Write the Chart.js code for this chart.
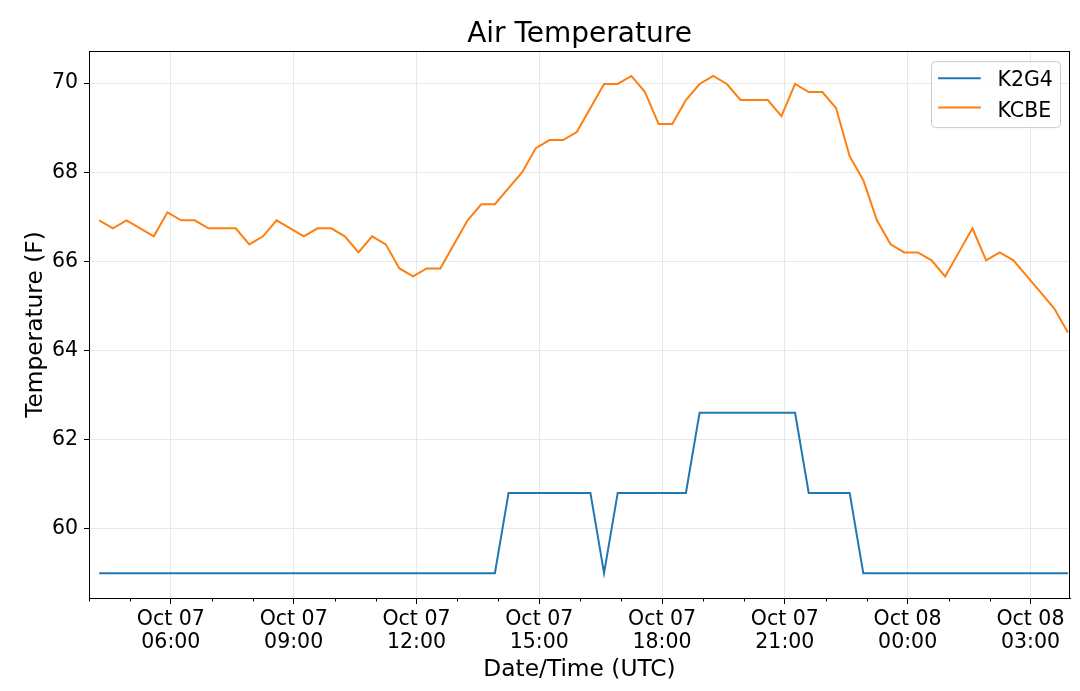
<!DOCTYPE html>
<html>
<head>
<meta charset="utf-8">
<script src="https://cdn.jsdelivr.net/npm/chart.js@4.4.0/dist/chart.umd.min.js"></script>
<style>
    html, body { margin: 0; padding: 0; background: #fff; }
    canvas { display: block; }
</style>
</head>
<body>
<canvas id="chart" width="1080" height="691"></canvas>
<script>
// Observation times (UTC), 'MM-DD HH:MM'
const times = [
    '10-07 04:15', '10-07 04:35', '10-07 04:55', '10-07 05:15', '10-07 05:35', '10-07 05:55',
    '10-07 06:15', '10-07 06:35', '10-07 06:55', '10-07 07:15', '10-07 07:35', '10-07 07:55',
    '10-07 08:15', '10-07 08:35', '10-07 08:55', '10-07 09:15', '10-07 09:35', '10-07 09:55',
    '10-07 10:15', '10-07 10:35', '10-07 10:55', '10-07 11:15', '10-07 11:35', '10-07 11:55',
    '10-07 12:15', '10-07 12:35', '10-07 12:55', '10-07 13:15', '10-07 13:35', '10-07 13:55',
    '10-07 14:15', '10-07 14:35', '10-07 14:55', '10-07 15:15', '10-07 15:35', '10-07 15:55',
    '10-07 16:15', '10-07 16:35', '10-07 16:55', '10-07 17:15', '10-07 17:35', '10-07 17:55',
    '10-07 18:15', '10-07 18:35', '10-07 18:55', '10-07 19:15', '10-07 19:35', '10-07 19:55',
    '10-07 20:15', '10-07 20:35', '10-07 20:55', '10-07 21:15', '10-07 21:35', '10-07 21:55',
    '10-07 22:15', '10-07 22:35', '10-07 22:55', '10-07 23:15', '10-07 23:35', '10-07 23:55',
    '10-08 00:15', '10-08 00:35', '10-08 00:55', '10-08 01:15', '10-08 01:35', '10-08 01:55',
    '10-08 02:15', '10-08 02:35', '10-08 02:55', '10-08 03:15', '10-08 03:35', '10-08 03:55'
];

// Air temperature (F)
const k2g4 = [
    59.0, 59.0, 59.0, 59.0, 59.0, 59.0, 59.0, 59.0, 59.0, 59.0,
    59.0, 59.0, 59.0, 59.0, 59.0, 59.0, 59.0, 59.0, 59.0, 59.0,
    59.0, 59.0, 59.0, 59.0, 59.0, 59.0, 59.0, 59.0, 59.0, 59.0,
    60.8, 60.8, 60.8, 60.8, 60.8, 60.8, 60.8, 59.0, 60.8, 60.8,
    60.8, 60.8, 60.8, 60.8, 62.6, 62.6, 62.6, 62.6, 62.6, 62.6,
    62.6, 62.6, 60.8, 60.8, 60.8, 60.8, 59.0, 59.0, 59.0, 59.0,
    59.0, 59.0, 59.0, 59.0, 59.0, 59.0, 59.0, 59.0, 59.0, 59.0,
    59.0, 59.0
];

const kcbe = [
    66.92, 66.74, 66.92, 66.74, 66.56, 67.10, 66.92, 66.92, 66.74, 66.74,
    66.74, 66.38, 66.56, 66.92, 66.74, 66.56, 66.74, 66.74, 66.56, 66.20,
    66.56, 66.38, 65.84, 65.66, 65.84, 65.84, 66.38, 66.92, 67.28, 67.28,
    67.64, 68.00, 68.54, 68.72, 68.72, 68.90, 69.44, 69.98, 69.98, 70.16,
    69.80, 69.08, 69.08, 69.62, 69.98, 70.16, 69.98, 69.62, 69.62, 69.62,
    69.26, 69.98, 69.80, 69.80, 69.44, 68.36, 67.82, 66.92, 66.38, 66.20,
    66.20, 66.02, 65.66, 66.20, 66.74, 66.02, 66.20, 66.02, 65.66, 65.30,
    64.94, 64.40
];

// Axis ticks
const xTickTimes = ['10-07 06:00', '10-07 09:00', '10-07 12:00', '10-07 15:00',
                    '10-07 18:00', '10-07 21:00', '10-08 00:00', '10-08 03:00'];
const xTickLabels = [
    ['Oct 07', '06:00'], ['Oct 07', '09:00'], ['Oct 07', '12:00'], ['Oct 07', '15:00'],
    ['Oct 07', '18:00'], ['Oct 07', '21:00'], ['Oct 08', '00:00'], ['Oct 08', '03:00']
];
const yTicks = [60, 62, 64, 66, 68, 70];

const xStart = '10-07 04:00';
const xEnd = '10-08 03:58';

const FONT = 'DejaVu Sans';

// hours since Oct 07 00:00
function toHours(s) {
    const [md, hm] = s.split(' ');
    const day = parseInt(md.split('-')[1], 10);
    const [h, m] = hm.split(':').map(Number);
    return (day - 7) * 24 + h + m / 60;
}

// Frame, minor ticks and in-axes legend (matplotlib look)
const axesDecor = {
    id: 'axesDecor',
    afterDatasetsDraw(chart) {
        const { ctx, chartArea: a, scales: { x } } = chart;
        ctx.save();
        ctx.strokeStyle = '#000';
        ctx.lineWidth = 1;
        ctx.strokeRect(Math.round(a.left) + 0.5, Math.round(a.top) + 0.5,
            Math.round(a.right - a.left) - 1, Math.round(a.bottom - a.top));
        // minor ticks, every hour
        for (let h = Math.ceil(x.min); h <= x.max; h++) {
            if (h % 3 === 0) continue;
            const px = Math.round(x.getPixelForValue(h)) + 0.5;
            ctx.beginPath();
            ctx.moveTo(px, a.bottom);
            ctx.lineTo(px, a.bottom + 3.5);
            ctx.stroke();
        }
        ctx.restore();
    },
    afterDraw(chart) {
        const { ctx, chartArea: a } = chart;
        const w = 129, h = 66;
        const left = a.right - 9.5 - w;
        const top = a.top + 10.5;
        ctx.save();
        ctx.beginPath();
        const r = 4;
        ctx.moveTo(left + r, top);
        ctx.lineTo(left + w - r, top);
        ctx.arcTo(left + w, top, left + w, top + r, r);
        ctx.lineTo(left + w, top + h - r);
        ctx.arcTo(left + w, top + h, left + w - r, top + h, r);
        ctx.lineTo(left + r, top + h);
        ctx.arcTo(left, top + h, left, top + h - r, r);
        ctx.lineTo(left, top + r);
        ctx.arcTo(left, top, left + r, top, r);
        ctx.closePath();
        ctx.fillStyle = 'rgba(255,255,255,0.8)';
        ctx.fill();
        ctx.strokeStyle = '#cccccc';
        ctx.lineWidth = 1;
        ctx.stroke();

        ctx.font = '20.5px "' + FONT + '"';
        ctx.textBaseline = 'alphabetic';
        ctx.textAlign = 'left';
        chart.data.datasets.forEach((ds, i) => {
            const ly = top + 16.6 + i * 29.4;
            ctx.beginPath();
            ctx.moveTo(left + 6.6, ly);
            ctx.lineTo(left + 49.3, ly);
            ctx.strokeStyle = ds.borderColor;
            ctx.lineWidth = 2;
            ctx.stroke();
            ctx.fillStyle = '#000';
            ctx.fillText(ds.label, left + 66, top + 24 + i * 31);
        });
        ctx.restore();
    }
};

function makeSeries(values) {
    return times.map((t, i) => ({ x: toHours(t), y: values[i] }));
}

const ctx = document.getElementById('chart');

new Chart(ctx, {
    type: 'line',
    data: {
        datasets: [{
            label: 'K2G4',
            data: makeSeries(k2g4),
            borderColor: '#1f77b4',
            borderWidth: 2,
            pointRadius: 0,
            tension: 0,
            fill: false
        }, {
            label: 'KCBE',
            data: makeSeries(kcbe),
            borderColor: '#ff7f0e',
            borderWidth: 2,
            pointRadius: 0,
            tension: 0,
            fill: false
        }]
    },
    options: {
        responsive: false,
        animation: false,
        devicePixelRatio: 1,
        layout: { padding: { left: 0, right: 10, top: 0, bottom: 0 } },
        plugins: {
            legend: { display: false },
            tooltip: { enabled: false },
            title: {
                display: true,
                text: 'Air Temperature',
                color: '#000',
                fullSize: false,
                font: { family: FONT, size: 28, weight: 'normal', lineHeight: 1.2 },
                padding: { top: 17.5, bottom: 0 }
            }
        },
        scales: {
            x: {
                type: 'linear',
                min: toHours(xStart),
                max: toHours(xEnd),
                afterBuildTicks: scale => {
                    scale.ticks = xTickTimes.map(t => ({ value: toHours(t) }));
                },
                afterFit: scale => { scale.height = 93; },
                ticks: {
                    autoSkip: false,
                    maxRotation: 0,
                    color: '#000',
                    padding: 4,
                    font: { family: FONT, size: 20.5, lineHeight: 1.14 },
                    callback: (value, index) => xTickLabels[index]
                },
                grid: { color: '#e8e8e8', tickColor: '#000', tickLength: 6, lineWidth: 1 },
                border: { color: '#000', width: 1 },
                title: {
                    display: true,
                    text: 'Date/Time (UTC)',
                    color: '#000',
                    font: { family: FONT, size: 23.3, lineHeight: 1.2 },
                    padding: { top: 0, bottom: 7.5 }
                }
            },
            y: {
                min: 58.442,
                max: 70.718,
                afterBuildTicks: scale => {
                    scale.ticks = yTicks.map(v => ({ value: v }));
                },
                afterFit: scale => { scale.width = 89; },
                ticks: {
                    color: '#000',
                    padding: 6,
                    font: { family: FONT, size: 20.5 },
                    callback: value => String(value)
                },
                grid: { color: '#e8e8e8', tickColor: '#000', tickLength: 5, lineWidth: 1 },
                border: { color: '#000', width: 1 },
                title: {
                    display: true,
                    text: 'Temperature (F)',
                    color: '#000',
                    font: { family: FONT, size: 23.3, lineHeight: 1.2 },
                    padding: { top: 21.5, bottom: 0 }
                }
            }
        }
    },
    plugins: [axesDecor]
});
</script>
</body>
</html>
